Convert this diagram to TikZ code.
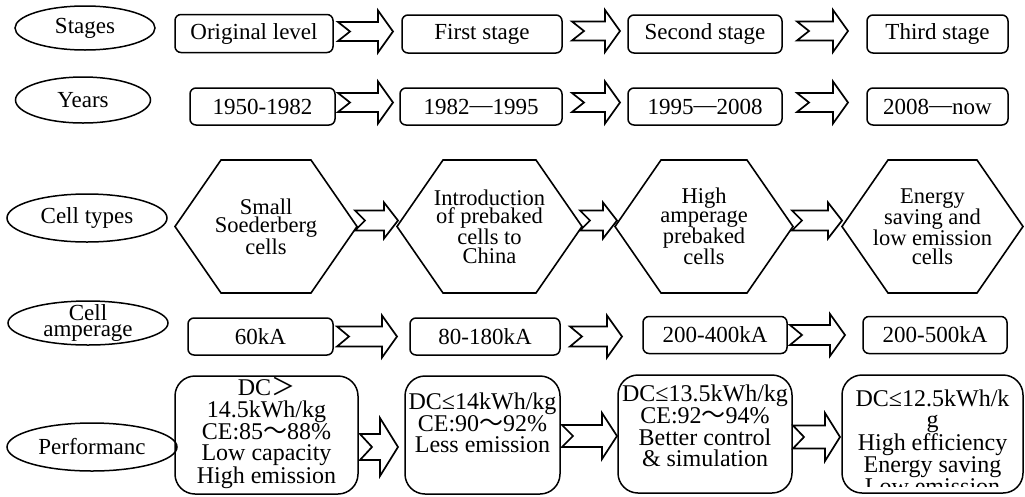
\documentclass[tikz,border=0pt]{standalone}
\usepackage{fontspec}
\setmainfont{Liberation Serif}
\newfontfamily\cjkf{Noto Sans CJK SC}
\usetikzlibrary{shapes.geometric,calc}
\newcommand{\wv}{{\cjkf ～}}
\newcommand{\gtr}{{\cjkf ＞}}
\newcommand{\ydash}{\raisebox{1.5pt}{—}}
% #1 tail node, #2 head node, #3 tail gap, #4 head gap, #5 dy, #6 body half height, #7 head half height, #8 head length, #9 notch depth
\newcommand{\blkarrow}[9]{%
  \path[blk] let \p1=($(#1.east)+(#3,#5)$), \p2=($(#2.west)+(-#4,0)$) in
  (\x1,\y1+#6pt) -- (\x2-#8pt,\y1+#6pt) -- (\x2-#8pt,\y1+#7pt) -- (\x2,\y1)
  -- (\x2-#8pt,\y1-#7pt) -- (\x2-#8pt,\y1-#6pt) -- (\x1,\y1-#6pt) -- (\x1+#9pt,\y1) -- cycle;}
\tikzset{
  ell/.style={ellipse, draw, line width=1.5pt, inner sep=0pt, outer sep=0pt, font=\fontsize{23}{20}\selectfont},
  box/.style={rectangle, rounded corners=6pt, draw, line width=1.5pt, inner sep=0pt, outer sep=0pt,
    minimum height=38pt, font=\fontsize{23}{20}\selectfont},
  hex/.style={rectangle, inner sep=0pt, outer sep=0pt, minimum height=133pt, align=center,
    font=\fontsize{22.5}{18.5}\selectfont},
  hexline/.style={draw, line width=1.6pt, line join=miter},
  pbox/.style={rectangle, rounded corners=20pt, draw, line width=1.5pt, inner sep=0pt, outer sep=0pt,
    minimum height=118pt},
  ptext/.style={align=center, inner sep=0pt, font=\fontsize{24}{21.7}\selectfont},
  blk/.style={draw, line width=1.7pt, line join=miter, fill=white}
}
\begin{document}
\begin{tikzpicture}[x=1pt, y=-1pt]
\useasboundingbox (0,0) rectangle (1025,496);
\fill[white] (0,0) rectangle (1025,496);
% Row 1
\node[ell, minimum width=140pt, minimum height=44pt] (e1) at (85,28) {Stages};
\node[box, minimum width=158pt] (s1) at (254,33.5) {Original level};
\node[box, minimum width=160pt] (s2) at (482,34) {First stage};
\node[box, minimum width=154pt] (s3) at (705,34) {Second stage};
\node[box, minimum width=141pt] (s4) at (937.5,34) {Third stage};
% Row 2
\node[ell, minimum width=135pt, minimum height=46pt] (e2) at (83,100) {Years};
\node[box, minimum width=145pt, minimum height=37pt] (y1) at (262.5,106.5) {1950-1982};
\node[box, minimum width=162pt, minimum height=37pt] (y2) at (481,106.5) {1982\ydash 1995};
\node[box, minimum width=154pt, minimum height=37pt] (y3) at (705,106.5) {1995\ydash 2008};
\node[box, minimum width=141pt, minimum height=37pt] (y4) at (937.5,106.5) {2008\ydash now};
% Row 3
\node[ell, minimum width=160pt, minimum height=48pt] (e3) at (87,218) {Cell types};
\node[hex, minimum width=182pt] (h1) at (266,226.5) {Small\\Soederberg\\cells};
\node[hex, minimum width=185pt] (h2) at (489.5,226.5) {Introduction\\of prebaked\\cells to\\China};
\node[hex, minimum width=178pt] (h3) at (704,226.5) {High\\amperage\\prebaked\\cells};
\node[hex, minimum width=181pt] (h4) at (932.5,226.5) {Energy\\saving and\\low emission\\cells};
\foreach \h in {h1,h2,h3,h4}
  \draw[hexline] (\h.west) -- ($(\h.north west)+(46,0)$) -- ($(\h.north east)+(-46,0)$) -- (\h.east)
    -- ($(\h.south east)+(-46,0)$) -- ($(\h.south west)+(46,0)$) -- cycle;
% Row 4
\node[ell, minimum width=160pt, minimum height=44pt] (e4) at (88,323) {};
\node[align=center, inner sep=0pt, font=\fontsize{23}{16.5}\selectfont] (e4t) at (e4.center) {Cell\\amperage};
\node[box, minimum width=145pt, minimum height=37pt] (c1) at (260.5,336.5) {60kA};
\node[box, minimum width=150pt, minimum height=37pt] (c2) at (485,336.5) {80-180kA};
\node[box, minimum width=144pt, minimum height=37pt] (c3) at (715,335) {200-400kA};
\node[box, minimum width=144pt, minimum height=37pt] (c4) at (935,335) {200-500kA};
% Row 5
\node[ell, minimum width=170pt, minimum height=48pt] (e5) at (92,447) {Performanc};
\node[pbox, minimum width=183pt] (p1) at (266.5,435) {};
\node[pbox, minimum width=155pt] (p2) at (482.5,435) {};
\node[pbox, minimum width=174pt] (p3) at (705,434) {};
\node[pbox, minimum width=181pt] (p4) at (932.5,434) {};
\node[ptext] (t1) at (266.5,433) {DC\gtr\\14.5kWh/kg\\CE:85\wv 88\%\\Low capacity\\High emission};
\node[ptext] (t2) at (482.5,423) {DC≤14kWh/kg\\CE:90\wv 92\%\\Less emission};
\node[ptext] (t3) at (705,426) {DC≤13.5kWh/kg\\CE:92\wv 94\%\\Better control\\\& simulation};
\begin{scope}
\clip (842,376) rectangle (1023,486);
\node[ptext] (t4) at (932.5,442) {DC≤12.5kWh/k\\g\\High efficiency\\Energy saving\\Low emission};
\end{scope}
% Arrows
\blkarrow{s1}{s2}{5}{9}{-2}{9.5}{21}{15}{12}
\blkarrow{s2}{s3}{10}{8}{-3}{9.5}{21}{15}{12}
\blkarrow{s3}{s4}{15}{19}{-3}{9.5}{21}{15}{12}
\blkarrow{y1}{y2}{3}{7}{-4}{9.5}{21}{15}{12}
\blkarrow{y2}{y3}{10}{8}{-4}{9.5}{21}{15}{12}
\blkarrow{y3}{y4}{15}{19}{-4}{9.5}{21}{15}{12}
\blkarrow{h1}{h2}{-2}{-1}{-6}{10}{18}{14}{10}
\blkarrow{h2}{h3}{-2}{-2}{-6}{10}{18}{14}{10}
\blkarrow{h3}{h4}{-1}{0}{-6}{10}{18}{14}{10}
\blkarrow{c1}{c2}{4}{13}{0}{10}{21}{15}{12}
\blkarrow{c2}{c3}{10}{21}{0}{10}{21}{15}{12}
\blkarrow{c3}{c4}{3}{18}{0}{10}{21}{15}{12}
\blkarrow{p1}{p2}{2}{7}{12}{13}{29}{18}{12}
\blkarrow{p2}{p3}{2}{1}{1}{11}{23}{15}{11}
\blkarrow{p3}{p4}{1}{2}{3}{11.5}{24}{15}{11}
\end{tikzpicture}
\end{document}
